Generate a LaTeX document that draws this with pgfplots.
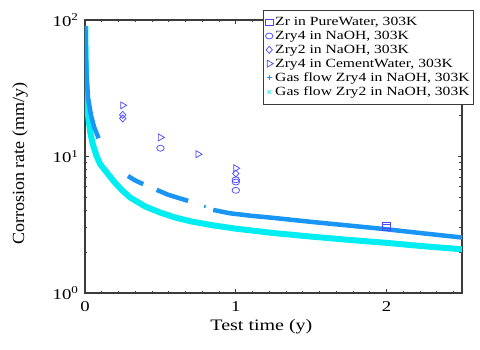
\documentclass[border=0pt]{standalone}
\usepackage{fontspec}
\setmainfont{Liberation Serif}[FakeStretch=1.25]
\newfontfamily\ylabfont{Liberation Serif}[FakeStretch=1.06]
\usepackage{pgfplots}
\pgfplotsset{compat=1.18}
\definecolor{mblue}{RGB}{70,70,255}
\definecolor{gfblue}{RGB}{25,150,245}
\definecolor{gfcyan}{RGB}{0,238,242}
\definecolor{axgray}{RGB}{60,60,60}
\begin{document}
\begin{tikzpicture}
\begin{axis}[
  scale only axis, width=377pt, height=273pt,
  ymode=log, xmin=0, xmax=2.5, ymin=1, ymax=100,
  axis line style={axgray, line width=1.1pt},
  every tick/.style={axgray, line width=0.8pt},
  major tick length=4pt, minor tick length=2.5pt,
  xtick={0,1,2},
  minor xtick={0.1111,0.2222,0.3333,0.4444,0.5556,0.6667,0.7778,0.8889,1.1111,1.2222,1.3333,1.4444,1.5556,1.6667,1.7778,1.8889,2.1111,2.2222,2.3333,2.4444},
  ytick={1,10,100},
  yticklabels={10\textsuperscript{0},10\textsuperscript{1},10\textsuperscript{2}},
  minor ytick={2,3,4,5,6,7,8,9,20,30,40,50,60,70,80,90},
  /pgf/number format/assume math mode=true,
  ticklabel style={font=\fontsize{15}{18}\selectfont},
  xticklabel style={yshift=-5pt},
  yticklabel style={xshift=-3pt},
  xlabel={Test time (y)},
  xlabel style={font=\fontsize{16}{19}\selectfont, at={(rel axis cs:0.468,-0.123)}, anchor=center},
  ylabel={\ylabfont Corrosion rate (mm/y)},
  ylabel style={font=\fontsize{17}{20}\selectfont, at={(rel axis cs:-0.172,0.474)}, anchor=center},
  legend style={at={(rel axis cs:1.032,1.037)}, anchor=north east,
    font=\fontsize{12.5}{13.6}\selectfont, draw=axgray, line width=0.8pt,
    inner xsep=2pt, inner ysep=5pt, row sep=0pt,
    cells={anchor=west}, fill=white},
  mark options={solid},
]
% Gas flow Zry2 (cyan)
\addplot[gfcyan, line width=6pt, forget plot] coordinates {
(0.002,90)(0.004,55)(0.007,38)(0.01,30)(0.02,20)(0.035,15)(0.05,12.5)(0.075,10.2)
(0.1,8.8)(0.15,7.5)(0.2,6.4)(0.25,5.6)(0.3,5.0)(0.4,4.3)(0.5,3.88)(0.6,3.57)
(0.7,3.35)(0.85,3.13)(1.0,2.96)(1.25,2.75)(1.5,2.59)(1.75,2.45)(2.0,2.33)
(2.25,2.2)(2.5,2.09)};
% Gas flow Zry4 (blue), in segments
\addplot[gfblue, line width=4.5pt, forget plot] coordinates {
(0.003,90)(0.005,58)(0.01,40)(0.02,27)(0.04,20)(0.06,16.5)(0.09,13.6)};
\addplot[gfblue, line width=4.5pt, forget plot] coordinates {
(0.285,7.2)(0.33,6.7)(0.386,6.27)};
\addplot[gfblue, line width=4.5pt, forget plot] coordinates {
(0.475,5.7)(0.55,5.25)(0.62,4.97)(0.684,4.73)};
\addplot[gfblue, line width=3pt, forget plot] coordinates {
(0.79,4.32)(0.80,4.29)};
\addplot[gfblue, line width=4.5pt, forget plot] coordinates {
(0.85,4.06)(0.96,3.84)(1.1,3.68)(1.25,3.55)(1.5,3.32)(1.75,3.12)(2.0,2.93)
(2.25,2.73)(2.5,2.55)};
% markers
\addplot[only marks, color=mblue, mark=square, mark size=3pt, line width=0.7pt, mark options={xscale=1.25, draw=mblue, fill=none}, legend image post style={mblue, mark options={draw=mblue, xscale=1.25}}] coordinates {(2.0,3.04)(2.0,3.13)};
\addlegendentry{Zr in PureWater, 303K}
\addplot[only marks, color=mblue, mark=o, mark size=3pt, line width=0.7pt, mark options={xscale=1.25, draw=mblue}] coordinates {(0.5,11.5)(1.0,6.75)(1.0,6.5)(1.0,5.65)};
\addlegendentry{Zry4 in NaOH, 303K}
\addplot[only marks, color=mblue, mark=diamond, mark size=3.5pt, line width=0.7pt, mark options={xscale=1.2, draw=mblue}] coordinates {(0.25,20.2)(0.25,19.0)(1.0,7.5)};
\addlegendentry{Zry2 in NaOH, 303K}
\addplot[only marks, color=mblue, mark=triangle, mark size=4pt, line width=0.7pt, mark options={rotate=-90, draw=mblue}] coordinates {(0.25,23.7)(0.5,13.8)(0.75,10.4)(1.0,8.2)};
\addlegendentry{Zry4 in CementWater, 303K}
\addlegendimage{only marks, mark=+, color=gfblue, mark size=2.5pt, line width=0.7pt}
\addlegendentry{Gas flow Zry4 in NaOH, 303K}
\addlegendimage{only marks, mark=x, color=gfcyan, mark size=2.5pt, line width=0.7pt}
\addlegendentry{Gas flow Zry2 in NaOH, 303K}
\end{axis}
\path (current axis.south west) ++(-85pt,-56pt) coordinate (bl);
\path (current axis.south west) ++(395pt,293pt) coordinate (tr);
\path (bl) rectangle (tr);
\end{tikzpicture}
\end{document}
